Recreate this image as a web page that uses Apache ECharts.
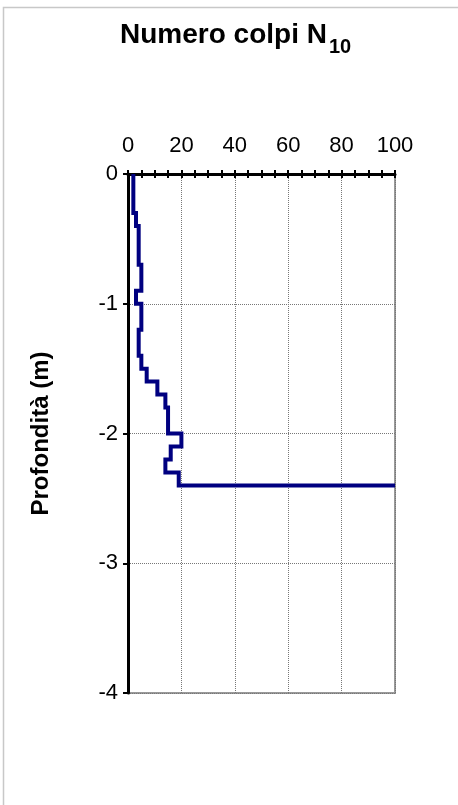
<!DOCTYPE html>
<html>
<head>
<meta charset="utf-8">
<script src="https://cdn.jsdelivr.net/npm/echarts@6/dist/echarts.min.js"></script>
<style>
  html, body { margin: 0; padding: 0; background: #fff; }
  #chart { width: 458px; height: 805px; }
</style>
</head>
<body>
<div id="chart"></div>
<script>
// profondità (m) all'inizio di ogni tratto da 10 cm
const depthTop = [0, 0.1, 0.2, 0.3, 0.4, 0.5, 0.6, 0.7, 0.8, 0.9, 1.0, 1.1, 1.2, 1.3, 1.4, 1.5, 1.6, 1.7, 1.8, 1.9, 2.0, 2.1, 2.2, 2.3]
// numero colpi per tratto
const blows = [2, 2, 2, 3, 4, 4, 4, 5, 5, 3, 5, 5, 4, 4, 5, 7, 11, 14, 15, 15, 20, 16, 14, 19]
const refusalDepth = 2.4
const refusalBlows = 100
const xTicks = [0, 20, 40, 60, 80, 100]
const yTicks = [0, -1, -2, -3, -4]

// costruzione della spezzata a gradini
const points = []
blows.forEach((v, i) => {
  const bottom = i < depthTop.length - 1 ? depthTop[i + 1] : refusalDepth
  points.push([v, -depthTop[i]])
  points.push([v, -bottom])
})
points.push([refusalBlows, -refusalDepth])

const chart = echarts.init(document.getElementById('chart'))
const font = 'Arial, "Liberation Sans", sans-serif'

const xBase = {
  type: 'value',
  position: 'top',
  min: xTicks[0],
  max: xTicks[xTicks.length - 1],
  interval: 20
}

chart.setOption({
  animation: false,
  grid: {
    left: 128, top: 174, width: 267, height: 519,
    show: true, borderColor: '#999', borderWidth: 2, backgroundColor: 'transparent'
  },
  graphic: [
    {
      type: 'rect', left: 1, top: 5, silent: true,
      shape: { width: 470, height: 820 },
      style: { fill: 'none', stroke: '#c8c8c8', lineWidth: 1.5 }
    },
    {
      type: 'text', left: 120, top: 21,
      style: { text: 'Numero colpi N', font: 'bold 28px ' + font, fill: '#000' }
    },
    {
      type: 'text', left: 329, top: 37,
      style: { text: '10', font: 'bold 20px ' + font, fill: '#000' }
    }
  ],
  xAxis: [
    Object.assign({}, xBase, {
      axisLine: { show: true, onZero: false, lineStyle: { color: '#000', width: 3 } },
      axisTick: { show: true, inside: true, length: 4, lineStyle: { color: '#000', width: 2 } },
      minorTick: { show: true, splitNumber: 4, length: 4, lineStyle: { color: '#000', width: 2 } },
      axisLabel: { show: true, margin: 17, color: '#000', fontSize: 22, fontFamily: font },
      splitLine: { show: true, lineStyle: { color: '#777', type: 'dotted', width: 1 } }
    }),
    Object.assign({}, xBase, {
      axisLine: { show: false },
      axisTick: { show: true, inside: false, length: 4, lineStyle: { color: '#000', width: 2 } },
      minorTick: { show: true, splitNumber: 4, length: 4, lineStyle: { color: '#000', width: 2 } },
      axisLabel: { show: false },
      splitLine: { show: false }
    })
  ],
  yAxis: {
    type: 'value',
    min: yTicks[yTicks.length - 1],
    max: yTicks[0],
    interval: 1,
    name: 'Profondità (m)',
    nameLocation: 'middle',
    nameGap: 75,
    nameTextStyle: { fontSize: 24, fontWeight: 'bold', color: '#000', fontFamily: font },
    axisLine: { show: true, onZero: false, lineStyle: { color: '#000', width: 3 } },
    axisTick: { show: true, length: 5, lineStyle: { color: '#000', width: 2 } },
    axisLabel: { margin: 10, color: '#000', fontSize: 22, fontFamily: font },
    splitLine: { show: true, lineStyle: { color: '#777', type: 'dotted', width: 1 } }
  },
  series: [{
    type: 'line',
    xAxisIndex: 0,
    data: points,
    showSymbol: false,
    lineStyle: { color: '#000080', width: 4, join: 'miter' },
    z: 5
  }]
})
</script>
</body>
</html>
